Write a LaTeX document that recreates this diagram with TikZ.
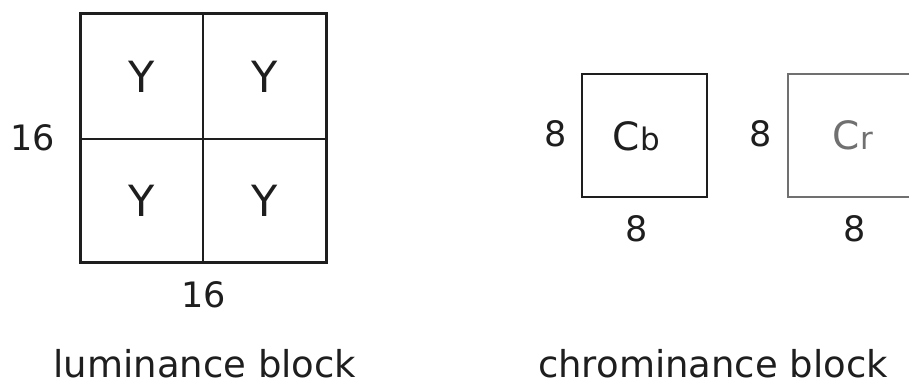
\documentclass[tikz,border=0pt]{standalone}
\usepackage{fontspec}
\setmainfont{DejaVu Sans}
\definecolor{ink}{HTML}{1E1E1E}
\definecolor{grayink}{HTML}{707070}
\tikzset{
  lbl/.style={inner sep=0pt, text=ink, font=\fontsize{35}{35}\selectfont},
  captiontext/.style={inner sep=0pt, text=ink, anchor=base, font=\fontsize{37}{37}\selectfont},
  ylbl/.style={inner sep=0pt, text=ink, font=\fontsize{43}{43}\selectfont},
  chrlbl/.style={inner sep=0pt, text=ink, font=\fontsize{39}{39}\selectfont},
  lumbox/.style={draw=ink, line width=3pt, inner sep=0pt, minimum width=246pt, minimum height=248pt},
  chrbox/.style={draw=ink, line width=2pt, inner sep=0pt, minimum width=125pt, minimum height=123pt},
  divider/.style={draw=ink, line width=1.2pt}
}
\newcommand{\chrsub}[1]{\kern1pt{\fontsize{31}{31}\selectfont #1}}
\begin{document}
\begin{tikzpicture}[x=1pt,y=-1pt]
\useasboundingbox (0,0) rectangle (909,382);
\clip (0,0) rectangle (909,382);
% luminance block
\node[lumbox] (lum) at (203,138) {};
\coordinate (vt) at (203,14);
\coordinate (vb) at (203,262);
\coordinate (hl) at (80,139);
\coordinate (hr) at (326,139);
\draw[divider] (vt) -- (vb);
\draw[divider] (hl) -- (hr);
\node[ylbl] (y1) at (142,76.5) {Y};
\node[ylbl] (y2) at (265,76.5) {Y};
\node[ylbl] (y3) at (142,201) {Y};
\node[ylbl] (y4) at (265,201) {Y};
\node[lbl] (lh) at (33,138) {16};
\node[lbl] (lw) at (204,295) {16};
\node[captiontext] (lcap) at (205,377) {luminance block};
% Cb block
\node[chrbox] (cb) at (644.5,135.5) {};
\node[chrlbl] (cbt) at (636.5,136) {C\chrsub{b}};
\node[lbl] (cbh) at (556,134) {8};
\node[lbl] (cbw) at (637,229) {8};
% Cr block
\node[chrbox, draw=grayink] (cr) at (850.5,135.5) {};
\node[chrlbl, text=grayink] (crt) at (853,135.5) {C\chrsub{r}};
\node[lbl] (crh) at (761,134) {8};
\node[lbl] (crw) at (855,229) {8};
\node[captiontext] (ccap) at (713,377) {chrominance block};
\end{tikzpicture}
\end{document}
